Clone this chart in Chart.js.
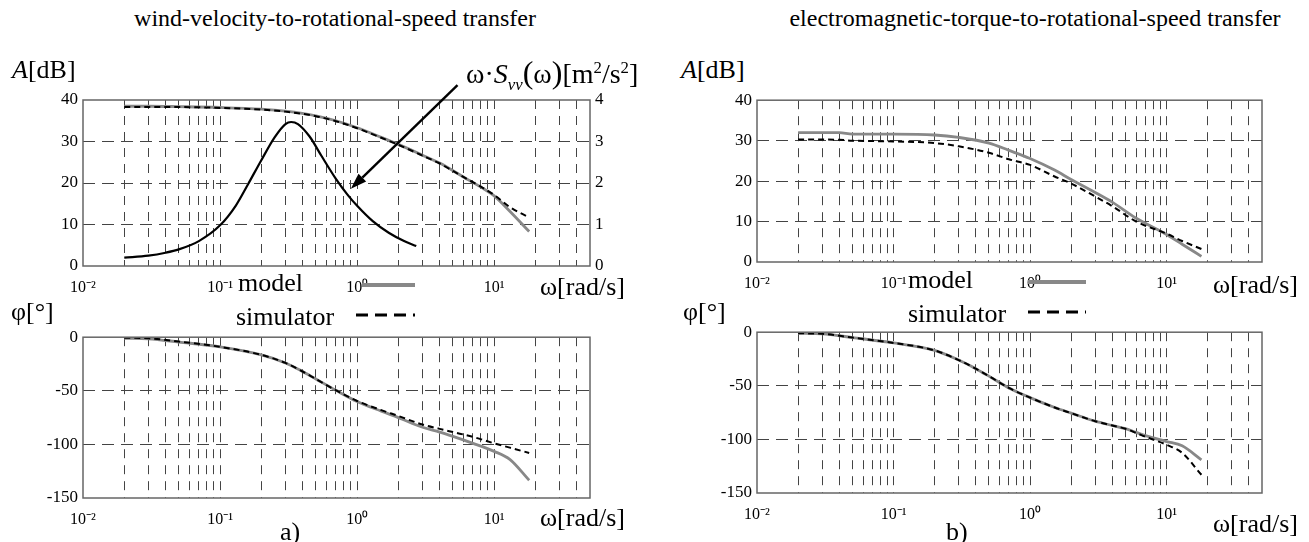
<!DOCTYPE html>
<html>
<head>
<meta charset="utf-8">
<script src="https://cdn.jsdelivr.net/npm/chart.js@4.4.1/dist/chart.umd.min.js"></script>
<style>
body{margin:0;width:1309px;height:542px;background:#fff;position:relative;overflow:hidden;font-family:"Liberation Serif","Times New Roman",serif;color:#000}
.t{position:absolute;white-space:nowrap;line-height:1}
.c{position:absolute}
.lab{font-size:26px}
sup,sub{font-size:60%;line-height:0}
svg{position:absolute;left:0;top:0}
</style>
</head>
<body>

<div class="c" style="left:23px;top:80px;width:612px;height:221px"><canvas id="magA"></canvas></div>
<div class="c" style="left:23px;top:322px;width:587px;height:211px"><canvas id="phA"></canvas></div>
<div class="c" style="left:697px;top:85px;width:585px;height:212px"><canvas id="magB"></canvas></div>
<div class="c" style="left:697px;top:317px;width:585px;height:211px"><canvas id="phB"></canvas></div>

<div class="t" style="left:335px;top:6px;font-size:24px;transform:translateX(-50%)">wind-velocity-to-rotational-speed transfer</div>
<div class="t" style="left:1035px;top:6px;font-size:24px;transform:translateX(-50%)">electromagnetic-torque-to-rotational-speed transfer</div>

<div class="t lab" style="left:12px;top:57px"><i>A</i>[dB]</div>
<div class="t lab" style="left:11px;top:299px">φ[°]</div>
<div class="t lab" style="left:681px;top:57px"><i>A</i>[dB]</div>
<div class="t lab" style="left:683px;top:299px">φ[°]</div>

<div class="t lab" style="left:540px;top:274px">ω[rad/s]</div>
<div class="t lab" style="left:540px;top:505px">ω[rad/s]</div>
<div class="t lab" style="left:1213px;top:272px">ω[rad/s]</div>
<div class="t lab" style="left:1213px;top:511px">ω[rad/s]</div>

<div class="t lab" style="left:238px;top:270px">model</div>
<div class="t lab" style="left:236px;top:304px">simulator</div>
<div class="t lab" style="left:908px;top:267px">model</div>
<div class="t lab" style="left:908px;top:301px">simulator</div>

<div class="t lab" style="left:280px;top:519px">a)</div>
<div class="t lab" style="left:946px;top:519px">b)</div>

<div class="t" style="left:466px;top:56px;font-size:28px">ω·<i>S</i><sub><i>vv</i></sub><span style="font-size:32px">(</span>ω<span style="font-size:32px">)</span>[m<sup>2</sup>/s<sup>2</sup>]</div>

<svg width="1309" height="542">
  <line x1="362" y1="285" x2="415" y2="285" stroke="#888" stroke-width="4"/>
  <line x1="356" y1="315" x2="415" y2="315" stroke="#000" stroke-width="3" stroke-dasharray="12,7"/>
  <line x1="1028" y1="282" x2="1086" y2="282" stroke="#888" stroke-width="4"/>
  <line x1="1028" y1="312" x2="1086" y2="312" stroke="#000" stroke-width="3" stroke-dasharray="12,7"/>
</svg>

<script>
// frequency axis ticks (rad/s)
var xTickVals = [0.01,0.02,0.03,0.04,0.05,0.06,0.07,0.08,0.09,
                 0.1,0.2,0.3,0.4,0.5,0.6,0.7,0.8,0.9,
                 1,2,3,4,5,6,7,8,9,
                 10,20,30,40,50];
var xDecades = {0.01: '10⁻²', 0.1: '10⁻¹', 1: '10⁰', 10: '10¹'};

// a) wind-velocity-to-rotational-speed: amplitude
var wMagA = [0.02, 0.03, 0.05, 0.1, 0.2, 0.3, 0.5, 0.7, 1, 1.5, 2, 3, 4, 6, 8, 10, 13, 18];
var magModelA = [38.5, 38.5, 38.4, 38.2, 37.8, 37.3, 36.2, 35.0, 33.3, 31.0, 29.3, 26.7, 24.8, 21.4, 19.0, 16.9, 13.2, 8.3];
var magSimA   = [38.3, 38.3, 38.3, 38.1, 37.7, 37.2, 36.1, 34.9, 33.2, 30.9, 29.2, 26.6, 24.7, 21.4, 19.1, 17.1, 14.2, 11.7];

// wind spectrum  w*Svv(w) [m2/s2], right axis
var wSpec = [0.02, 0.03, 0.04, 0.05, 0.07, 0.1, 0.13, 0.16, 0.2, 0.25, 0.3, 0.33, 0.37, 0.45, 0.55, 0.7, 0.85, 1.0, 1.3, 1.7, 2.2, 2.7];
var specVals = [0.2, 0.25, 0.32, 0.4, 0.6, 0.98, 1.45, 1.97, 2.55, 3.1, 3.42, 3.47, 3.42, 3.12, 2.65, 2.1, 1.72, 1.45, 1.08, 0.8, 0.6, 0.48];

// a) phase
var wPhA = [0.02, 0.03, 0.05, 0.1, 0.2, 0.3, 0.4, 0.5, 0.7, 1, 1.5, 2, 3, 4, 5, 7, 10, 13, 18];
var phModelA = [-1, -1.5, -4.5, -9, -16.5, -24, -32, -39, -49.5, -60, -69, -75, -84, -88.5, -92.5, -99, -106.5, -114, -133.5];
var phSimA   = [-0.5, -1, -4, -9, -16.5, -24, -32, -39, -49.5, -59.5, -68, -73.5, -81.5, -85.5, -88.5, -93, -99, -103, -108];

// b) electromagnetic-torque-to-rotational-speed: amplitude
var wMagB = [0.02, 0.04, 0.05, 0.1, 0.2, 0.3, 0.5, 0.7, 1, 1.5, 2, 3, 4, 6, 10, 13, 18];
var magModelB = [32, 32, 31.6, 31.6, 31.4, 30.8, 29.4, 27.6, 25.6, 22.8, 20.4, 17.2, 14.8, 10.8, 6.8, 4.4, 1.4];
var magSimB   = [30.3, 30.2, 30, 29.8, 29.4, 28.6, 27, 25.4, 24, 21.2, 19.4, 16.2, 13.8, 10, 7, 5.2, 3.2];

// b) phase
var wPhB = [0.02, 0.03, 0.05, 0.1, 0.2, 0.3, 0.4, 0.5, 0.7, 1, 1.5, 2, 3, 4, 5, 6, 7, 10, 13, 18];
var phModelB = [-1, -1.5, -5, -10, -17, -26, -34, -41, -52, -61, -70, -75.5, -83, -87, -90, -93.5, -96.5, -102, -106, -119];
var phSimB   = [-1, -1.5, -5, -10, -17, -26, -34, -41, -52, -61, -70, -75.5, -83, -87, -90, -94, -97.5, -105, -112.5, -133];

// arrow pointing at the spectrum curve (rad/s, dB)
var arrowFrom = [5.4, 43.6];
var arrowTo = [0.9, 18.6];

var FONT = '"Liberation Serif", "Times New Roman", serif';
var GRID = '#444';

function pts(xs, ys) {
  return xs.map(function(x, i) { return {x: x, y: ys[i]}; });
}

function modelSet(xs, ys) {
  return {data: pts(xs, ys), borderColor: '#888', borderWidth: 2.8, pointRadius: 0,
          cubicInterpolationMode: 'monotone', yAxisID: 'y'};
}
function simSet(xs, ys) {
  return {data: pts(xs, ys), borderColor: '#000', borderWidth: 2, borderDash: [6, 4],
          pointRadius: 0, cubicInterpolationMode: 'monotone', yAxisID: 'y'};
}

function xAxis() {
  return {
    type: 'logarithmic', min: 0.01, max: 50,
    afterBuildTicks: function(s) { s.ticks = xTickVals.map(function(v) { return {value: v}; }); },
    afterFit: function(s) { s.height = 35; },
    grid: {drawTicks: false, lineWidth: 1,
           color: function(c) { var v = c.tick && c.tick.value; return (v === 0.01 || v === 50) ? 'rgba(0,0,0,0)' : GRID; }},
    border: {display: false, dash: [9, 7]},
    ticks: {autoSkip: false, maxRotation: 0, minRotation: 0, padding: 12, color: '#000',
            font: {family: FONT, size: 16},
            callback: function(v) { return xDecades[v] || ''; }}
  };
}

function yAxis(min, max, step, pos, w, showGrid) {
  return {
    type: 'linear', position: pos, min: min, max: max,
    afterFit: function(s) { s.width = w; },
    grid: {display: showGrid, drawTicks: false, lineWidth: 1,
           color: function(c) { var v = c.tick && c.tick.value; return (v === min || v === max) ? 'rgba(0,0,0,0)' : GRID; }},
    border: {display: false, dash: [12, 7]},
    ticks: {stepSize: step, padding: 5, color: '#000', font: {family: FONT, size: 17}}
  };
}

var boxPlugin = {
  id: 'box',
  afterDraw: function(chart) {
    var a = chart.chartArea, ctx = chart.ctx;
    ctx.save();
    ctx.strokeStyle = '#666';
    ctx.lineWidth = 1.5;
    ctx.strokeRect(a.left, a.top, a.right - a.left, a.bottom - a.top);
    ctx.restore();
  }
};

var arrowPlugin = {
  id: 'arrow',
  afterDraw: function(chart) {
    var x = chart.scales.x, y = chart.scales.y, ctx = chart.ctx;
    var x0 = x.getPixelForValue(arrowFrom[0]), y0 = y.getPixelForValue(arrowFrom[1]);
    var x1 = x.getPixelForValue(arrowTo[0]), y1 = y.getPixelForValue(arrowTo[1]);
    var ang = Math.atan2(y1 - y0, x1 - x0), len = 16, half = 5.5;
    var bx = x1 - len * Math.cos(ang), by = y1 - len * Math.sin(ang);
    ctx.save();
    ctx.strokeStyle = '#000';
    ctx.fillStyle = '#000';
    ctx.lineWidth = 2.4;
    ctx.beginPath();
    ctx.moveTo(x0, y0);
    ctx.lineTo(bx, by);
    ctx.stroke();
    ctx.beginPath();
    ctx.moveTo(x1, y1);
    ctx.lineTo(bx + half * Math.sin(ang), by - half * Math.cos(ang));
    ctx.lineTo(bx - half * Math.sin(ang), by + half * Math.cos(ang));
    ctx.closePath();
    ctx.fill();
    ctx.restore();
  }
};

function makeChart(id, datasets, scales, pad, extra) {
  return new Chart(document.getElementById(id), {
    type: 'line',
    data: {datasets: datasets},
    options: {
      responsive: true, maintainAspectRatio: false, animation: false, devicePixelRatio: 1,
      layout: {padding: pad},
      plugins: {legend: {display: false}, tooltip: {enabled: false}},
      scales: scales
    },
    plugins: [boxPlugin].concat(extra || [])
  });
}

makeChart('magA',
  [simSet(wMagA, magSimA), modelSet(wMagA, magModelA),
   {data: pts(wSpec, specVals), borderColor: '#000', borderWidth: 2.2, pointRadius: 0,
    cubicInterpolationMode: 'monotone', yAxisID: 'y1'}],
  {x: xAxis(), y: yAxis(0, 40, 10, 'left', 60, true), y1: yAxis(0, 4, 1, 'right', 45, false)},
  {top: 20, right: 0, left: 0, bottom: 0}, [arrowPlugin]);

makeChart('phA',
  [simSet(wPhA, phSimA), modelSet(wPhA, phModelA)],
  {x: xAxis(), y: yAxis(-150, 0, 50, 'left', 60, true)},
  {top: 10, right: 20, left: 0, bottom: 0});

makeChart('magB',
  [simSet(wMagB, magSimB), modelSet(wMagB, magModelB)],
  {x: xAxis(), y: yAxis(0, 40, 10, 'left', 60, true)},
  {top: 10, right: 20, left: 0, bottom: 0});

makeChart('phB',
  [simSet(wPhB, phSimB), modelSet(wPhB, phModelB)],
  {x: xAxis(), y: yAxis(-150, 0, 50, 'left', 60, true)},
  {top: 10, right: 20, left: 0, bottom: 0});
</script>
</body>
</html>
